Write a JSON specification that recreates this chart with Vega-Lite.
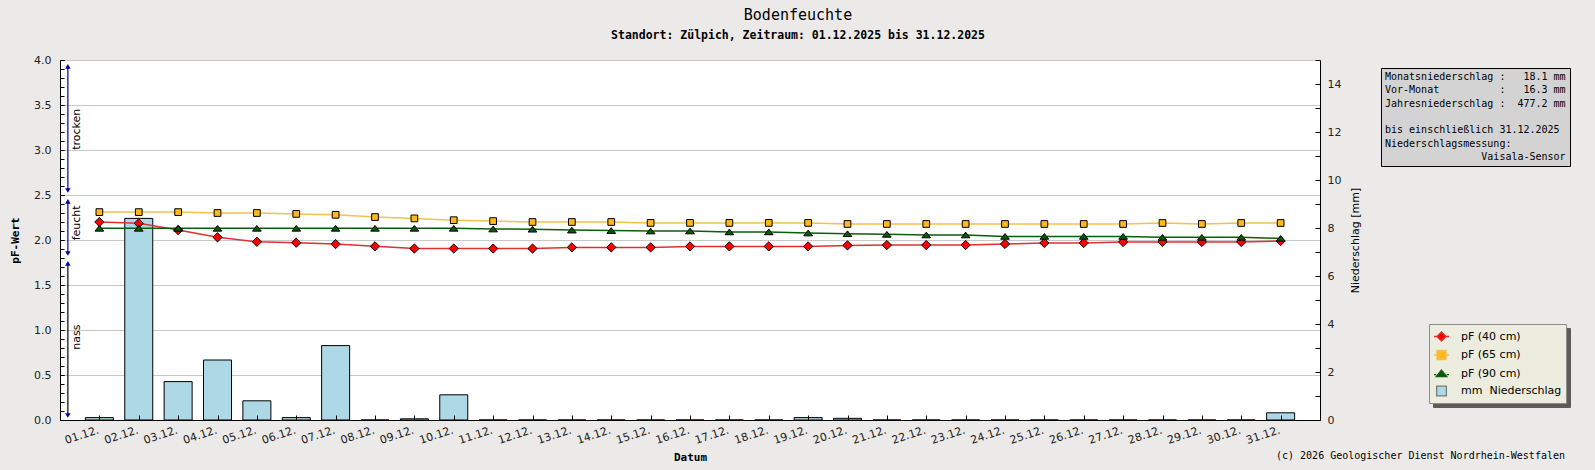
{
  "$schema": "https://vega.github.io/schema/vega-lite/v6.json",
  "width": 1260,
  "height": 360,
  "autosize": {"type": "none"},
  "padding": {"left": 60, "top": 60, "right": 275, "bottom": 50},
  "background": "#eceae8",
  "view": {"fill": "white", "stroke": null},
  "title": {
    "text": "Bodenfeuchte",
    "subtitle": "Standort: Zülpich, Zeitraum: 01.12.2025 bis 31.12.2025",
    "font": "DejaVu Sans Mono",
    "fontSize": 15,
    "fontWeight": "normal",
    "color": "black",
    "subtitleFont": "DejaVu Sans Mono",
    "subtitleFontSize": 11.5,
    "subtitleFontWeight": "bold",
    "subtitleColor": "black",
    "subtitlePadding": 7,
    "anchor": "middle",
    "frame": "group",
    "dx": 108,
    "offset": 13
  },
  "data": {
    "values": [
      {"tag": 1, "pf40": 2.2, "pf65": 2.31, "pf90": 2.13, "mm": 0.1},
      {"tag": 2, "pf40": 2.185, "pf65": 2.31, "pf90": 2.13, "mm": 8.4},
      {"tag": 3, "pf40": 2.11, "pf65": 2.31, "pf90": 2.13, "mm": 1.6},
      {"tag": 4, "pf40": 2.03, "pf65": 2.3, "pf90": 2.13, "mm": 2.5},
      {"tag": 5, "pf40": 1.98, "pf65": 2.3, "pf90": 2.13, "mm": 0.8},
      {"tag": 6, "pf40": 1.97, "pf65": 2.29, "pf90": 2.13, "mm": 0.1},
      {"tag": 7, "pf40": 1.955, "pf65": 2.28, "pf90": 2.13, "mm": 3.1},
      {"tag": 8, "pf40": 1.93, "pf65": 2.255, "pf90": 2.13, "mm": 0},
      {"tag": 9, "pf40": 1.905, "pf65": 2.24, "pf90": 2.13, "mm": 0.05},
      {"tag": 10, "pf40": 1.905, "pf65": 2.22, "pf90": 2.13, "mm": 1.05},
      {"tag": 11, "pf40": 1.905, "pf65": 2.21, "pf90": 2.122, "mm": 0},
      {"tag": 12, "pf40": 1.905, "pf65": 2.2, "pf90": 2.12, "mm": 0},
      {"tag": 13, "pf40": 1.918, "pf65": 2.2, "pf90": 2.11, "mm": 0},
      {"tag": 14, "pf40": 1.918, "pf65": 2.2, "pf90": 2.105, "mm": 0},
      {"tag": 15, "pf40": 1.918, "pf65": 2.19, "pf90": 2.1, "mm": 0},
      {"tag": 16, "pf40": 1.929, "pf65": 2.19, "pf90": 2.1, "mm": 0},
      {"tag": 17, "pf40": 1.929, "pf65": 2.19, "pf90": 2.09, "mm": 0},
      {"tag": 18, "pf40": 1.929, "pf65": 2.19, "pf90": 2.09, "mm": 0},
      {"tag": 19, "pf40": 1.929, "pf65": 2.19, "pf90": 2.078, "mm": 0.1},
      {"tag": 20, "pf40": 1.94, "pf65": 2.178, "pf90": 2.07, "mm": 0.07},
      {"tag": 21, "pf40": 1.944, "pf65": 2.178, "pf90": 2.063, "mm": 0},
      {"tag": 22, "pf40": 1.944, "pf65": 2.178, "pf90": 2.056, "mm": 0},
      {"tag": 23, "pf40": 1.944, "pf65": 2.178, "pf90": 2.056, "mm": 0},
      {"tag": 24, "pf40": 1.956, "pf65": 2.178, "pf90": 2.04, "mm": 0},
      {"tag": 25, "pf40": 1.967, "pf65": 2.178, "pf90": 2.04, "mm": 0},
      {"tag": 26, "pf40": 1.967, "pf65": 2.178, "pf90": 2.04, "mm": 0},
      {"tag": 27, "pf40": 1.978, "pf65": 2.178, "pf90": 2.04, "mm": 0},
      {"tag": 28, "pf40": 1.978, "pf65": 2.189, "pf90": 2.03, "mm": 0},
      {"tag": 29, "pf40": 1.978, "pf65": 2.178, "pf90": 2.03, "mm": 0},
      {"tag": 30, "pf40": 1.978, "pf65": 2.189, "pf90": 2.03, "mm": 0},
      {"tag": 31, "pf40": 1.989, "pf65": 2.189, "pf90": 2.018, "mm": 0.3}
    ]
  },
  "layer": [
    {
      "mark": {"type": "bar", "size": 28, "fill": "#add8e6", "stroke": "black", "strokeWidth": 1},
      "encoding": {
        "x": {
          "field": "tag",
          "type": "quantitative",
          "scale": {"domain": [0, 32], "nice": false, "zero": false, "padding": 0},
          "axis": {
            "values": [1,2,3,4,5,6,7,8,9,10,11,12,13,14,15,16,17,18,19,20,21,22,23,24,25,26,27,28,29,30,31],
            "labelExpr": "(datum.value < 10 ? '0' : '') + datum.value + '.12.'",
            "labelAngle": -18,
            "labelAlign": "right",
            "labelBaseline": "top",
            "labelFont": "DejaVu Sans",
            "labelFontSize": 11,
            "labelColor": "#222222",
            "labelPadding": 9,
            "labelOffset": -3,
            "labelOverlap": false,
            "tickSize": -5,
            "tickColor": "black",
            "domainColor": "black",
            "grid": false,
            "zindex": 1,
            "title": "Datum",
            "titleFont": "DejaVu Sans Mono",
            "titleFontWeight": "bold",
            "titleFontSize": 11,
            "titleColor": "black",
            "titlePadding": 6
          }
        },
        "y": {
          "field": "mm",
          "type": "quantitative",
          "scale": {"domain": [0, 15], "nice": false},
          "axis": {
            "orient": "right",
            "values": [0,1,2,3,4,5,6,7,8,9,10,11,12,13,14,15],
            "format": "d",
            "labelExpr": "datum.value % 2 === 0 ? datum.label : ''",
            "labelOverlap": false,
            "labelFont": "DejaVu Sans",
            "labelFontSize": 11,
            "labelColor": "#222222",
            "labelPadding": 12,
            "tickSize": -5,
            "tickColor": "black",
            "domainColor": "black",
            "grid": false,
            "zindex": 1,
            "title": "Niederschlag [mm]",
            "titleAngle": 270,
            "titleFont": "DejaVu Sans",
            "titleFontWeight": "normal",
            "titleFontSize": 11,
            "titleColor": "black",
            "titlePadding": 20
          }
        }
      }
    },
    {
      "layer": [
        {
          "mark": {"type": "line", "color": "#e03030", "strokeWidth": 1.5},
          "encoding": {
            "x": {"field": "tag", "type": "quantitative"},
            "y": {
              "field": "pf40",
              "type": "quantitative",
              "scale": {"domain": [0, 4], "nice": false},
              "axis": {
                "orient": "left",
                "values": [0, 0.5, 1, 1.5, 2, 2.5, 3, 3.5, 4],
                "format": ".1f",
                "labelFont": "DejaVu Sans",
                "labelFontSize": 11,
                "labelColor": "#222222",
                "labelPadding": 13,
                "labelOverlap": false,
                "tickSize": -4,
                "tickColor": "black",
                "domainColor": "black",
                "grid": true,
                "gridColor": "#c8c8c8",
                "zindex": 0,
                "title": "pF-Wert",
                "titleFont": "DejaVu Sans Mono",
                "titleFontWeight": "bold",
                "titleFontSize": 11,
                "titleColor": "black",
                "titlePadding": 13
              }
            }
          }
        },
        {
          "mark": {"type": "line", "color": "#f2c14e", "strokeWidth": 1.5},
          "encoding": {
            "x": {"field": "tag", "type": "quantitative"},
            "y": {
              "field": "pf65",
              "type": "quantitative",
              "axis": {
                "orient": "left",
                "values": [0,0.1,0.2,0.3,0.4,0.5,0.6,0.7,0.8,0.9,1.0,1.1,1.2,1.3,1.4,1.5,1.6,1.7,1.8,1.9,2.0,2.1,2.2,2.3,2.4,2.5,2.6,2.7,2.8,2.9,3.0,3.1,3.2,3.3,3.4,3.5,3.6,3.7,3.8,3.9,4.0],
                "labels": false,
                "domain": false,
                "grid": false,
                "tickSize": -4,
                "tickColor": "black",
                "title": null,
                "zindex": 0
              }
            }
          }
        },
        {
          "mark": {"type": "line", "color": "#0b5e0b", "strokeWidth": 1.5},
          "encoding": {
            "x": {"field": "tag", "type": "quantitative"},
            "y": {"field": "pf90", "type": "quantitative", "axis": null}
          }
        },
        {
          "mark": {"type": "point", "shape": "diamond", "filled": true, "size": 85, "fill": "#ff0000", "stroke": "black", "strokeWidth": 1, "opacity": 1},
          "encoding": {
            "x": {"field": "tag", "type": "quantitative"},
            "y": {"field": "pf40", "type": "quantitative", "axis": null}
          }
        },
        {
          "mark": {"type": "point", "shape": "square", "filled": true, "size": 45, "fill": "#ffb81f", "stroke": "black", "strokeWidth": 1, "opacity": 1},
          "encoding": {
            "x": {"field": "tag", "type": "quantitative"},
            "y": {"field": "pf65", "type": "quantitative", "axis": null}
          }
        },
        {
          "mark": {"type": "point", "shape": "M0,-0.65L1,0.65L-1,0.65Z", "filled": true, "size": 76, "fill": "#0a5a0a", "stroke": "black", "strokeWidth": 1, "opacity": 1},
          "encoding": {
            "x": {"field": "tag", "type": "quantitative"},
            "y": {"field": "pf90", "type": "quantitative", "axis": null}
          }
        },
        {
          "data": {"name": "zonen", "values": [
            {"zone": "trocken", "von": 2.55, "bis": 3.93, "mitte": 3.23},
            {"zone": "feucht", "von": 1.85, "bis": 2.43, "mitte": 2.19},
            {"zone": "nass", "von": 0.05, "bis": 1.74, "mitte": 0.92}
          ]},
          "layer": [
            {
              "mark": {"type": "rule", "strokeWidth": 1.2},
              "encoding": {
                "x": {"datum": 0.2, "type": "quantitative"},
                "y": {"field": "von", "type": "quantitative", "axis": null},
                "y2": {"field": "bis"},
                "color": {"condition": {"test": "datum.zone === 'nass'", "value": "black"}, "value": "#0000a0"}
              }
            },
            {
              "mark": {"type": "point", "shape": "triangle-up", "filled": true, "size": 30, "color": "#0000a0", "opacity": 1},
              "encoding": {
                "x": {"datum": 0.2, "type": "quantitative"},
                "y": {"field": "bis", "type": "quantitative", "axis": null}
              }
            },
            {
              "mark": {"type": "point", "shape": "triangle-down", "filled": true, "size": 30, "color": "#0000a0", "opacity": 1},
              "encoding": {
                "x": {"datum": 0.2, "type": "quantitative"},
                "y": {"field": "von", "type": "quantitative", "axis": null}
              }
            },
            {
              "mark": {"type": "text", "angle": 270, "font": "DejaVu Sans", "fontSize": 11, "color": "black", "align": "center", "baseline": "middle"},
              "encoding": {
                "x": {"datum": 0.42, "type": "quantitative"},
                "y": {"field": "mitte", "type": "quantitative", "axis": null},
                "text": {"field": "zone"}
              }
            }
          ]
        },
        {
          "data": {"values": [{"kasten": "s1"}, {"kasten": "s2"}]},
          "mark": {"type": "point", "size": 0, "fillOpacity": 0, "strokeOpacity": 0},
          "encoding": {
            "color": {
              "field": "kasten", "type": "nominal",
              "scale": {"domain": ["s1", "s2"], "range": ["#5c5c5c"]},
              "legend": {"title": null, "orient": "none", "legendX": 1373, "legendY": 268, "direction": "horizontal", "columns": 2, "columnPadding": 0, "fillColor": "#5c5c5c", "strokeColor": "#5c5c5c", "padding": 10.5, "labelExpr": "''", "labelOffset": 0, "labelFontSize": 1, "symbolSize": 3364, "symbolOpacity": 0, "symbolStrokeWidth": 0}
            }
          }
        },
        {
          "data": {"values": [
            {"serie": "pF (40 cm)"},
            {"serie": "pF (65 cm)"},
            {"serie": "pF (90 cm)"},
            {"serie": "mm\u00a0\u00a0Niederschlag"}
          ]},
          "mark": {"type": "point", "filled": true, "opacity": 0},
          "encoding": {
            "fill": {
              "field": "serie", "type": "nominal",
              "scale": {"domain": ["pF (40 cm)", "pF (65 cm)", "pF (90 cm)", "mm\u00a0\u00a0Niederschlag"], "range": ["#ff0000", "#ffb81f", "#0a5a0a", "#add8e6"]},
              "legend": {"title": null, "orient": "none", "legendX": 1369, "legendY": 264, "direction": "vertical", "fillColor": "#ececdf", "strokeColor": "#8c8c8c", "padding": 4, "rowPadding": 2.5, "labelOffset": 11, "labelFont": "DejaVu Sans", "labelFontSize": 11, "labelColor": "black", "labelLimit": 400, "symbolSize": 225, "symbolStrokeWidth": 1.3, "symbolOpacity": 1}
            },
            "stroke": {
              "field": "serie", "type": "nominal",
              "scale": {"domain": ["pF (40 cm)", "pF (65 cm)", "pF (90 cm)", "mm\u00a0\u00a0Niederschlag"], "range": ["#e03030", "#f2c14e", "#0b5e0b", "#7a7a7a"]},
              "legend": {"title": null, "orient": "none", "legendX": 1369, "legendY": 264, "direction": "vertical", "fillColor": "#ececdf", "strokeColor": "#8c8c8c", "padding": 4, "rowPadding": 2.5, "labelOffset": 11, "labelFont": "DejaVu Sans", "labelFontSize": 11, "labelColor": "black", "labelLimit": 400, "symbolSize": 225, "symbolStrokeWidth": 1.3, "symbolOpacity": 1}
            },
            "shape": {
              "field": "serie", "type": "nominal",
              "scale": {"domain": ["pF (40 cm)", "pF (65 cm)", "pF (90 cm)", "mm\u00a0\u00a0Niederschlag"], "range": [
                "M-1,0H-0.6M0.6,0H1M0,-0.6L0.6,0L0,0.6L-0.6,0Z",
                "M-1,0H-0.6M0.6,0H1M-0.6,-0.6H0.6V0.6H-0.6Z",
                "M-1,0.15H-0.7M0.7,0.15H1M0,-0.45L0.7,0.4H-0.7Z",
                "M-0.65,-0.65H0.65V0.65H-0.65Z"
              ]},
              "legend": {"title": null, "orient": "none", "legendX": 1369, "legendY": 264, "direction": "vertical", "fillColor": "#ececdf", "strokeColor": "#8c8c8c", "padding": 4, "rowPadding": 2.5, "labelOffset": 11, "labelFont": "DejaVu Sans", "labelFontSize": 11, "labelColor": "black", "labelLimit": 400, "symbolSize": 225, "symbolStrokeWidth": 1.3, "symbolOpacity": 1}
            }
          }
        },
        {
          "data": {"values": [{"kasten": "i1"}, {"kasten": "i2"}]},
          "mark": {"type": "point", "size": 0, "fillOpacity": 0},
          "encoding": {
            "strokeOpacity": {
              "field": "kasten", "type": "nominal",
              "scale": {"domain": ["i1", "i2"], "range": [0]},
              "legend": {"title": null, "orient": "none", "legendX": 1325, "legendY": 12, "direction": "horizontal", "columns": 2, "columnPadding": 0, "fillColor": "#5c5c5c", "strokeColor": "#5c5c5c", "padding": 3, "labelExpr": "''", "labelOffset": 0, "labelFontSize": 1, "symbolSize": 8281, "symbolOpacity": 0, "symbolStrokeWidth": 0}
            }
          }
        },
        {
          "data": {"values": [
            {"zeile": "Monatsniederschlag :\u00a0\u00a0\u00a018.1 mm"},
            {"zeile": "Vor-Monat\u00a0\u00a0\u00a0\u00a0\u00a0\u00a0\u00a0\u00a0\u00a0\u00a0:\u00a0\u00a0\u00a016.3 mm"},
            {"zeile": "Jahresniederschlag :\u00a0\u00a0477.2 mm"},
            {"zeile": "\u00a0"},
            {"zeile": "bis einschließlich 31.12.2025"},
            {"zeile": "Niederschlagsmessung:"},
            {"zeile": "\u200b\u00a0\u00a0\u00a0\u00a0\u00a0\u00a0\u00a0\u00a0\u00a0\u00a0\u00a0\u00a0\u00a0\u00a0\u00a0\u00a0Vaisala-Sensor"}
          ]},
          "mark": {"type": "point", "size": 0, "fillOpacity": 0, "strokeOpacity": 0},
          "encoding": {
            "opacity": {
              "field": "zeile", "type": "ordinal", "sort": null,
              "scale": {"range": [0]},
              "legend": {"title": null, "orient": "none", "legendX": 1321, "legendY": 8, "direction": "vertical", "fillColor": "#d3d3d3", "strokeColor": "black", "padding": 4, "rowPadding": 3.3, "labelOffset": -10, "labelFont": "DejaVu Sans Mono", "labelFontSize": 10, "labelColor": "black", "labelLimit": 500, "symbolSize": 0, "symbolOpacity": 0, "symbolStrokeWidth": 0}
            }
          }
        },
        {
          "data": {"values": [
            {"quelle": "(c) 2026 Geologischer Dienst Nordrhein-Westfalen"}
          ]},
          "mark": {"type": "point", "opacity": 0},
          "encoding": {
            "size": {
              "field": "quelle", "type": "ordinal",
              "scale": {"range": [1]},
              "legend": {"title": null, "orient": "none", "legendX": 1216, "legendY": 396, "direction": "vertical", "padding": 0, "labelOffset": 0, "labelFont": "DejaVu Sans Mono", "labelFontSize": 10, "labelColor": "black", "labelLimit": 500, "symbolSize": 0, "symbolOpacity": 0, "symbolStrokeWidth": 0}
            }
          }
        }
      ],
      "resolve": {"axis": {"y": "independent"}}
    }
  ],
  "resolve": {"scale": {"y": "independent"}},
  "config": {"view": {"stroke": null}}
}
